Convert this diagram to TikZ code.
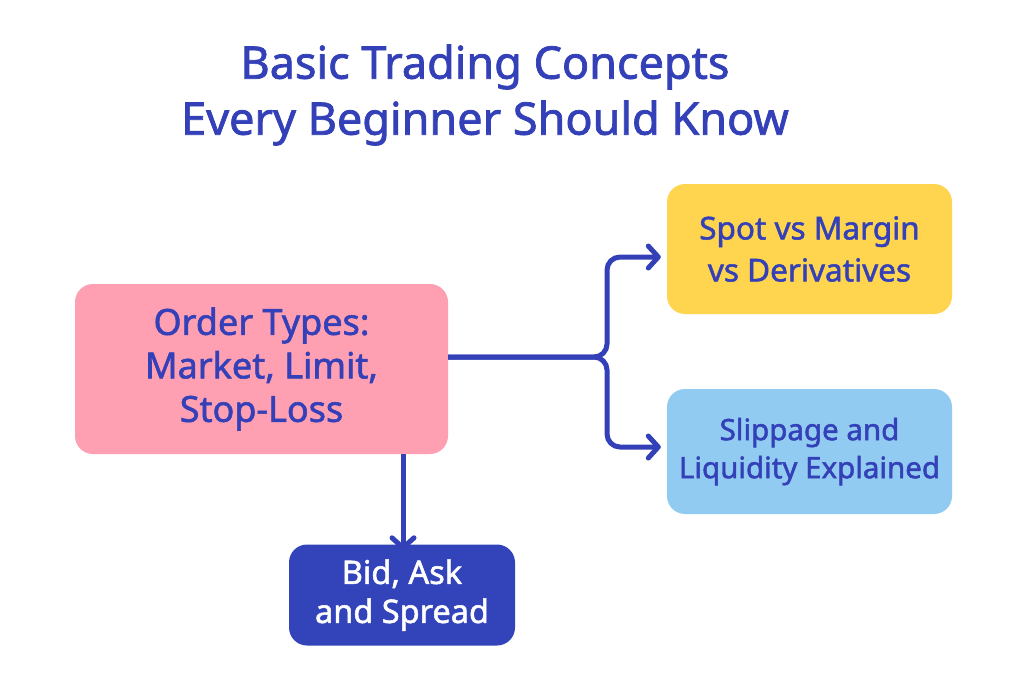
\documentclass[tikz,border=0pt]{standalone}
\usepackage{fontspec}
\setmainfont{Noto Sans}[FakeBold=1.6, AutoFakeBold=1.6]
\usetikzlibrary{arrows.meta}
\definecolor{ink}{HTML}{3340B8}
\definecolor{pinkbox}{HTML}{FF9FB2}
\definecolor{yellowbox}{HTML}{FFD54F}
\definecolor{skybox}{HTML}{92CBF1}
\definecolor{navybox}{HTML}{3344BB}
\tikzset{
  card/.style={rounded corners=18pt, inner sep=0pt, align=center, text=ink},
  link/.style={draw=ink, line width=5pt, rounded corners=13pt, -{Straight Barb[length=10pt,width=22pt,line cap=round,line join=round]}},
}
\begin{document}
\begin{tikzpicture}[x=1pt,y=-1pt]
\useasboundingbox[fill=white] (0,0) rectangle (1024,683);
\node[text=ink, align=center, font=\bfseries\fontsize{45}{56}\selectfont] (title) at (485,95) {Basic Trading Concepts\\Every Beginner Should Know};
\node[card, fill=pinkbox, minimum width=373pt, minimum height=170pt, font=\bfseries\fontsize{36}{43.5}\selectfont] (order) at (261.5,369) {Order Types:\\Market, Limit,\\Stop-Loss};
\node[card, fill=yellowbox, minimum width=285pt, minimum height=130pt, font=\bfseries\fontsize{31.5}{42}\selectfont] (spot) at (809.5,249) {Spot vs Margin\\vs Derivatives};
\node[card, fill=skybox, minimum width=285pt, minimum height=125pt, font=\bfseries\fontsize{29.5}{38}\selectfont] (slip) at (809.5,451.5) {Slippage and\\Liquidity Explained};
\node[card, fill=navybox, text=white, minimum width=226pt, minimum height=101pt, font=\bfseries\fontsize{32.5}{39}\selectfont] (bid) at (402,595) {Bid, Ask\\and Spread};
\coordinate (fork) at (607,357);
\draw[link] (order.east |- fork) -- (fork) |- ([xshift=-6pt]spot.west |- 0,257);
\draw[link] (order.east |- fork) -- (fork) |- ([xshift=-6pt]slip.west |- 0,447);
\draw[link] (order.south -| 403,0) -- ([yshift=-6pt]bid.north -| 403,0);
\end{tikzpicture}
\end{document}
